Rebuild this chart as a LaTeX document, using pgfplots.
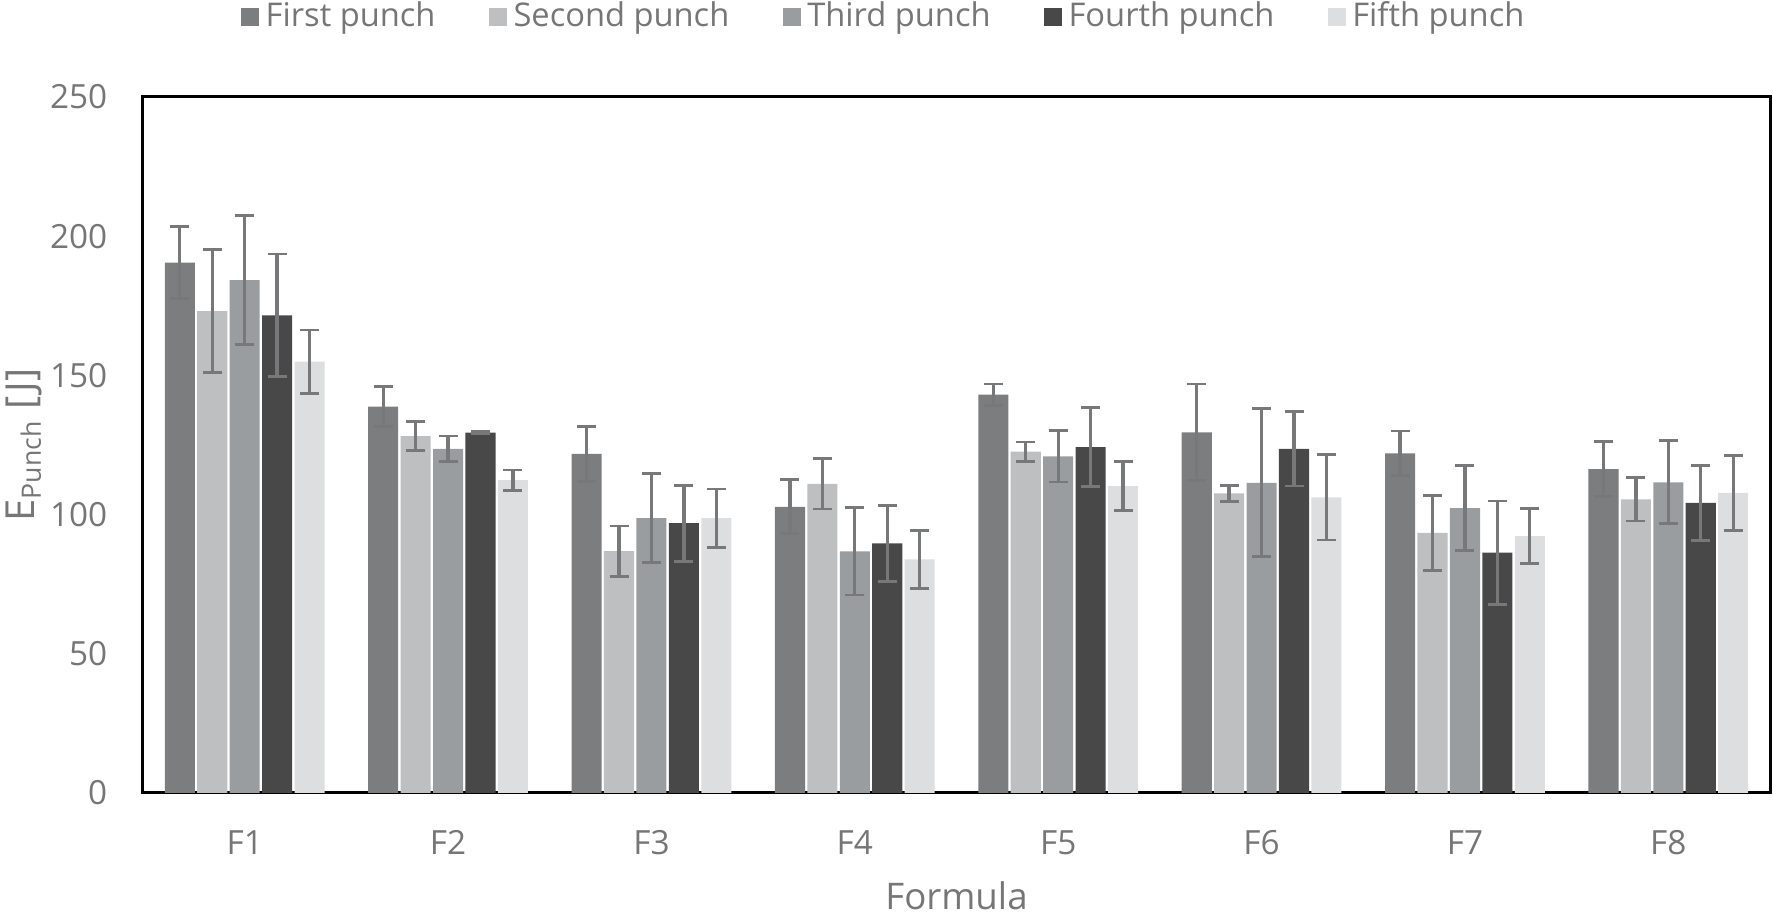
\documentclass[border=0pt]{standalone}
\usepackage{fontspec}
\setmainfont{Open Sans}
\usepackage{pgfplots}
\usepackage{pgfplotstable}
\pgfplotsset{compat=1.18}

\definecolor{txtgray}{HTML}{767676}
\definecolor{errgray}{HTML}{77787A}
\definecolor{cfirst}{HTML}{7C7D7F}
\definecolor{csecond}{HTML}{BEBFC1}
\definecolor{cthird}{HTML}{9A9DA0}
\definecolor{cfourth}{HTML}{484848}
\definecolor{cfifth}{HTML}{DDDEE0}

% E_punch per formula, five punches, value and error
\pgfplotstableread{
x   a      ea    b      eb    c      ec    d      ed    e      ee
0   190.5  12.9  173.1  22.0  184.2  23.2  171.6  22.0  154.9  11.4
1   138.8   7.1  128.2   5.1  123.6   4.6  129.4   0.3  112.4   3.6
2   121.8   9.8   86.9   9.0   98.7  16.0   96.9  13.6   98.7  10.5
3   102.8   9.7  111.0   9.0   86.8  15.7   89.7  13.7   83.9  10.3
4   143.1   3.8  122.6   3.5  120.9   9.2  124.2  14.2  110.2   8.8
5   129.5  17.4  107.6   2.8  111.4  26.6  123.6  13.3  106.2  15.3
6   122.0   8.0   93.4  13.4  102.3  15.3   86.3  18.6   92.3   9.8
7   116.3   9.9  105.5   7.8  111.6  14.9  104.2  13.4  107.8  13.4
}\punchdata

\begin{document}
\begin{tikzpicture}
\begin{axis}[
    name=ax,
    scale only axis,
    width=488.1pt, height=208.8pt,
    ybar=0.7pt, bar width=0.148,
    xmin=-0.5, xmax=7.5,
    ymin=0, ymax=250, ytick distance=50,
    xtick=data,
    xticklabels={F1,F2,F3,F4,F5,F6,F7,F8},
    major tick length=0pt,
    axis line style={black, line width=0.9pt},
    tick label style={font=\fontsize{10}{12}\selectfont, text=txtgray},
    /pgf/number format/assume math mode=true,
    xticklabel shift=7.8pt,
    yticklabel shift=7.2pt,
    xlabel={Formula},
    ylabel={E\textsubscript{Punch} [J]},
    every axis x label/.style={at={(axis description cs:0.5,-0.1100)}, anchor=north,
        font=\fontsize{11}{13}\selectfont, text=txtgray},
    every axis y label/.style={at={(axis description cs:-0.0549,0.5)}, rotate=90, anchor=south,
        font=\fontsize{12}{14}\selectfont, text=txtgray},
    legend columns=5,
    legend style={at={(0.4567,1.115)}, anchor=center, draw=none, fill=none,
        font=\fontsize{9.8}{12}\selectfont, text=txtgray,
        /tikz/every even column/.append style={column sep=14pt}},
    legend image code/.code={\fill[#1,draw=none] (0pt,-2.7pt) rectangle (5.4pt,2.7pt);},
    error bars/y dir=both, error bars/y explicit,
    error bars/error bar style={errgray, line width=1pt},
    error bars/error mark options={errgray, line width=0.85pt, mark size=2.85pt, rotate=90},
]
\addplot[fill=cfirst, draw=none] table[x=x, y=a, y error=ea] {\punchdata};
\addlegendentry{First punch}
\addplot[fill=csecond, draw=none] table[x=x, y=b, y error=eb] {\punchdata};
\addlegendentry{Second punch}
\addplot[fill=cthird, draw=none] table[x=x, y=c, y error=ec] {\punchdata};
\addlegendentry{Third punch}
\addplot[fill=cfourth, draw=none] table[x=x, y=d, y error=ed] {\punchdata};
\addlegendentry{Fourth punch}
\addplot[fill=cfifth, draw=none] table[x=x, y=e, y error=ee] {\punchdata};
\addlegendentry{Fifth punch}
\end{axis}
\pgfresetboundingbox
\path[use as bounding box] ([shift={(-42.9pt,-36.9pt)}]ax.south west) rectangle ([shift={(0.9pt,29.1pt)}]ax.north east);
\end{tikzpicture}
\end{document}
